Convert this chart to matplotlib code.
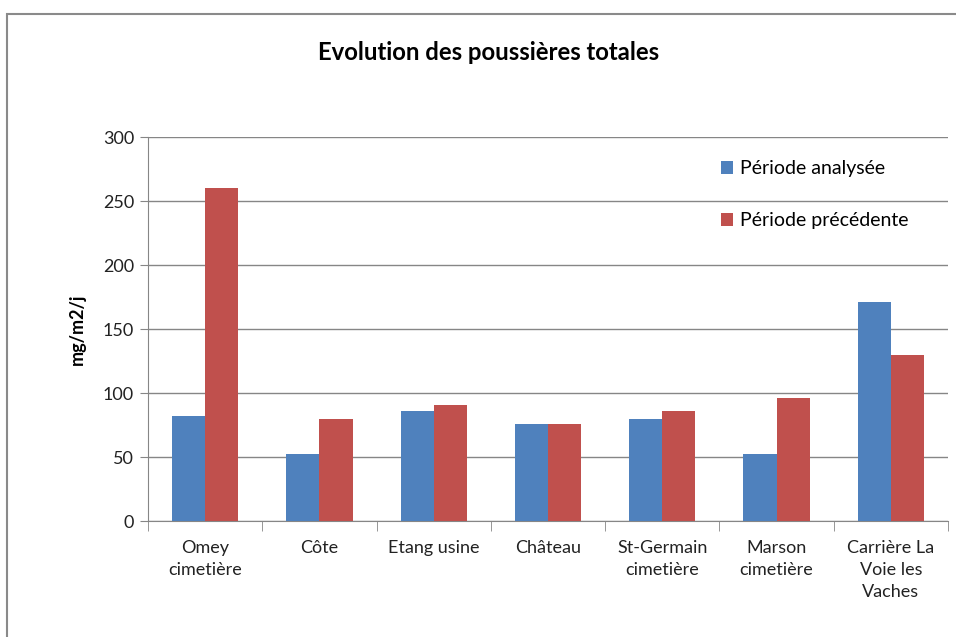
import numpy as np
import matplotlib
matplotlib.use("Agg")
import matplotlib.pyplot as plt
from matplotlib.patches import Rectangle

plt.rcParams["font.family"] = ["Lato", "DejaVu Sans"]

sites = ["Omey\ncimetière", "Côte", "Etang usine", "Château",
         "St-Germain\ncimetière", "Marson\ncimetière", "Carrière La\nVoie les\nVaches"]
periode_analysee = [82, 52, 86, 76, 80, 52, 171]
periode_precedente = [260, 80, 91, 76, 86, 96, 130]

BLUE = "#4F81BD"
RED = "#C0504D"
GRID = "#868686"

fig = plt.figure(figsize=(9.56, 6.37), dpi=100, facecolor="white")

# cadre du graphique
fig.patches.append(Rectangle((7 / 956, -0.1), 1.2, 1 - 14 / 637 + 0.1,
                             transform=fig.transFigure, fill=False,
                             edgecolor="#8a8a8a", lw=1.5))

ax = fig.add_axes([148 / 956, 1 - 521 / 637, 800 / 956, 384 / 637])
xs = np.arange(len(sites))
w = 0.29
ax.bar(xs - w / 2, periode_analysee, width=w, color=BLUE, label="Période analysée", zorder=3)
ax.bar(xs + w / 2, periode_precedente, width=w, color=RED, label="Période précédente", zorder=3)

ax.set_xlim(-0.5, len(sites) - 0.5)
ax.set_ylim(0, 300)
ax.set_yticks(range(0, 301, 50))
ax.yaxis.grid(True, color=GRID, lw=1.0, zorder=0)
ax.tick_params(axis="y", length=6, color=GRID, labelsize=13, labelcolor="#222222", pad=4)

ax.set_xticks(xs)
ax.set_xticklabels(sites, fontsize=13, color="#222222", linespacing=1.45)
ax.tick_params(axis="x", length=0, pad=14)
ax.set_xticks(np.arange(-0.5, len(sites)), minor=True)
ax.tick_params(axis="x", which="minor", length=7, color=GRID)

for s in ["top", "right"]:
    ax.spines[s].set_visible(False)
for s in ["left", "bottom"]:
    ax.spines[s].set_color(GRID)

ax.set_ylabel("mg/m2/j", fontsize=13, fontweight="bold", labelpad=12)
fig.text(489 / 956, 1 - 53 / 637, "Evolution des poussières totales",
         ha="center", va="center", fontsize=17.2, fontweight="bold")

ax.legend(loc="upper left", bbox_to_anchor=(0.694, 0.985), frameon=False,
          fontsize=14, handlelength=0.65, handleheight=0.65, handletextpad=0.35,
          labelspacing=1.78)

fig.savefig("out.png", dpi=100, facecolor="white")
